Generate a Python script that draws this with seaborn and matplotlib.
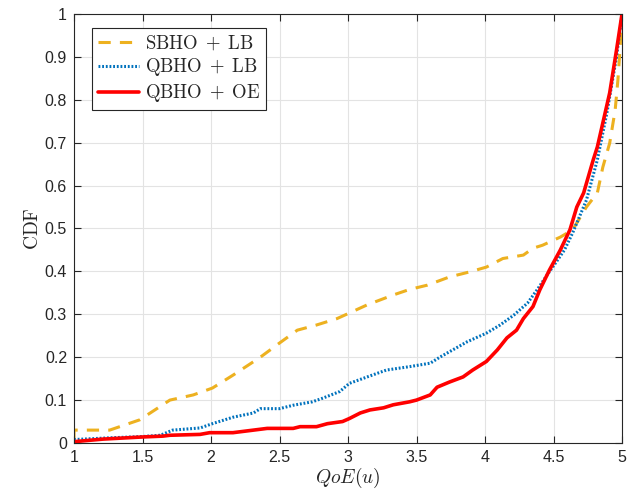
import pandas as pd
import seaborn as sns
import matplotlib.pyplot as plt
from matplotlib.ticker import FixedLocator

# values
sbho_lb_x = [1.0, 1.0, 1.26, 1.48, 1.70, 1.87, 2.01, 2.16, 2.36, 2.50, 2.63, 2.77, 2.92,
             3.01, 3.14, 3.33, 3.45, 3.58, 3.74, 3.89, 4.01, 4.13, 4.28, 4.35, 4.42,
             4.55, 4.64, 4.74, 4.82, 4.86, 4.91, 4.95, 4.97, 4.985, 5.0]
sbho_lb_y = [0.01, 0.03, 0.03, 0.054, 0.10, 0.112, 0.128, 0.158, 0.20, 0.233, 0.263, 0.275, 0.29,
             0.303, 0.322, 0.345, 0.358, 0.368, 0.387, 0.399, 0.41, 0.43, 0.438, 0.454, 0.461,
             0.48, 0.497, 0.55, 0.583, 0.643, 0.699, 0.776, 0.846, 0.916, 1.0]

qbho_lb_x = [1.0, 1.26, 1.5, 1.63, 1.72, 1.92, 2.01, 2.16, 2.31, 2.36, 2.50, 2.60, 2.74,
             2.82, 2.94, 3.01, 3.14, 3.28, 3.45, 3.60, 3.67, 3.87, 4.01, 4.11, 4.21,
             4.31, 4.38, 4.45, 4.52, 4.58, 4.64, 4.74, 4.82, 4.89, 4.96, 5.0]
qbho_lb_y = [0.008, 0.012, 0.015, 0.018, 0.03, 0.035, 0.045, 0.06, 0.07, 0.08, 0.08, 0.088, 0.096,
             0.105, 0.12, 0.139, 0.154, 0.17, 0.178, 0.186, 0.20, 0.236, 0.256, 0.275, 0.298,
             0.326, 0.357, 0.39, 0.422, 0.45, 0.49, 0.566, 0.66, 0.77, 0.90, 1.0]

qbho_oe_x = [1.0, 1.21, 1.5, 1.65, 1.70, 1.92, 1.99, 2.16, 2.31, 2.41, 2.60, 2.65, 2.77,
             2.85, 2.96, 3.01, 3.09, 3.16, 3.26, 3.33, 3.45, 3.50, 3.60, 3.65, 3.74,
             3.84, 3.91, 4.01, 4.09, 4.16, 4.23, 4.28, 4.35, 4.40, 4.47, 4.55, 4.62,
             4.67, 4.72, 4.79, 4.82, 4.86, 4.91, 4.96, 5.0]
qbho_oe_y = [0.003, 0.009, 0.014, 0.016, 0.018, 0.02, 0.024, 0.024, 0.03, 0.034, 0.034, 0.038, 0.038,
             0.045, 0.05, 0.057, 0.07, 0.077, 0.082, 0.089, 0.096, 0.10, 0.112, 0.13, 0.142,
             0.154, 0.17, 0.19, 0.217, 0.245, 0.263, 0.29, 0.318, 0.357, 0.403, 0.45, 0.497,
             0.55, 0.583, 0.66, 0.69, 0.746, 0.816, 0.916, 1.0]

x_ticks = [1, 1.5, 2, 2.5, 3, 3.5, 4, 4.5, 5]
x_tick_labels = ['1', '1.5', '2', '2.5', '3', '3.5', '4', '4.5', '5']
y_ticks = [0, 0.1, 0.2, 0.3, 0.4, 0.5, 0.6, 0.7, 0.8, 0.9, 1]
y_tick_labels = ['0', '0.1', '0.2', '0.3', '0.4', '0.5', '0.6', '0.7', '0.8', '0.9', '1']

sns.set_style('whitegrid')
plt.rcParams['font.family'] = ['Liberation Sans', 'DejaVu Sans']
plt.rcParams['mathtext.fontset'] = 'cm'

fig = plt.figure(figsize=(6.36, 4.97), dpi=100)
ax = fig.add_axes([0.1164, 0.1087, 0.8616, 0.8631])

sns.lineplot(x=sbho_lb_x, y=sbho_lb_y, ax=ax, color='#EDB120', lw=2.2,
             linestyle=(0, (4, 3)), label=r'$\mathrm{SBHO}\;+\;\mathrm{LB}$', sort=False,
             estimator=None)
sns.lineplot(x=qbho_lb_x, y=qbho_lb_y, ax=ax, color='#0072BD', lw=2.2,
             linestyle=(0, (0.6, 0.6)), label=r'$\mathrm{QBHO}\;+\;\mathrm{LB}$', sort=False,
             estimator=None)
sns.lineplot(x=qbho_oe_x, y=qbho_oe_y, ax=ax, color='#FF0000', lw=2.6,
             linestyle='-', label=r'$\mathrm{QBHO}\;+\;\mathrm{OE}$', sort=False,
             estimator=None)

ax.set_xlim(1, 5)
ax.set_ylim(0, 1)
ax.xaxis.set_major_locator(FixedLocator(x_ticks))
ax.yaxis.set_major_locator(FixedLocator(y_ticks))
ax.set_xticklabels(x_tick_labels)
ax.set_yticklabels(y_tick_labels)
ax.tick_params(direction='in', length=5, width=0.8, colors='#262626',
               labelsize=11.5, top=True, right=True, bottom=True, left=True, pad=5)
ax.grid(True, color='#E3E3E3', lw=0.8)
for s in ax.spines.values():
    s.set_color('#262626')
    s.set_linewidth(0.8)

ax.set_xlabel(r'$QoE(u)$', fontsize=14, labelpad=1)
ax.set_ylabel(r'$\mathrm{CDF}$', fontsize=14, labelpad=2)

leg = ax.legend(loc='upper left', bbox_to_anchor=(0.033, 0.968), fontsize=13.5,
                frameon=True, fancybox=False, edgecolor='#262626', framealpha=1,
                handlelength=2.2, handletextpad=0.3, borderpad=0.3, labelspacing=0.22,
                borderaxespad=0)
leg.get_frame().set_linewidth(0.8)

fig.savefig('out.png', dpi=100)
